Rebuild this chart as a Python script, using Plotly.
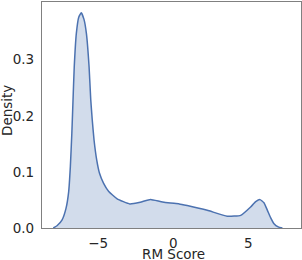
import plotly.graph_objects as go

# KDE curve
rm_score = [-8.0, -7.75, -7.42, -7.15, -6.97, -6.86, -6.76, -6.68, -6.6, -6.46, -6.3,
            -6.13, -5.95, -5.79, -5.61, -5.5, -5.4, -5.28, -5.1, -4.92, -4.65, -4.3,
            -3.74, -2.9, -2.2, -1.52, -0.8, -0.18, 0.4, 0.93, 2.27, 3.6, 4.5, 5.16,
            5.5, 5.79, 6.05, 6.28, 6.5, 6.72, 7.0, 7.28]
density = [0.0, 0.004, 0.014, 0.035, 0.065, 0.109, 0.169, 0.229, 0.287, 0.347, 0.376,
           0.384, 0.372, 0.347, 0.287, 0.229, 0.193, 0.157, 0.121, 0.098, 0.080, 0.065,
           0.052, 0.043, 0.046, 0.051, 0.047, 0.0446, 0.043, 0.040, 0.0315, 0.021,
           0.0226, 0.0375, 0.047, 0.0506, 0.045, 0.0315, 0.018, 0.0077, 0.002, 0.0]

x_ticks = [-5, 0, 5]
y_ticks = [0.0, 0.1, 0.2, 0.3]

fig = go.Figure()
fig.add_trace(go.Scatter(
    x=rm_score, y=density, mode="lines",
    line=dict(color="#4c72b0", width=1.5, shape="spline", smoothing=0.4),
    fill="tozeroy", fillcolor="rgba(76,114,176,0.25)",
    showlegend=False, hoverinfo="skip"))

font = dict(family="DejaVu Sans", size=13.5, color="#262626")
fig.update_layout(
    width=302, height=260,
    margin=dict(l=42, r=1, t=2, b=32),
    paper_bgcolor="white", plot_bgcolor="white",
    font=font,
    annotations=[
        dict(text="Density", xref="paper", yref="paper", x=0, y=0.5,
             xanchor="center", yanchor="middle", xshift=-35, yshift=4,
             textangle=-90, showarrow=False, font=font),
        dict(text="RM Score", xref="x", yref="paper", x=0, y=0,
             xanchor="center", yanchor="top", yshift=-16,
             showarrow=False, font=font),
    ],
)
fig.update_xaxes(
    range=[-8.75, 8.52], tickvals=x_ticks, ticktext=["\u22125", "0", "5"],
    showgrid=False, zeroline=False, showline=True, mirror=True,
    linecolor="#808080", linewidth=1.3, ticks="", ticklen=0,
    ticklabelstandoff=3, automargin=False,
)
fig.update_yaxes(
    range=[0, 0.403], tickvals=y_ticks, ticktext=["0.0", "0.1", "0.2", "0.3"],
    showgrid=False, zeroline=False, showline=True, mirror=True,
    linecolor="#808080", linewidth=1.3, ticks="", ticklen=0,
    ticklabelstandoff=4, automargin=False,
)

fig.write_html("out.html", config={"displayModeBar": False},
               post_script="document.body.style.margin='0';document.body.style.overflow='hidden';")
